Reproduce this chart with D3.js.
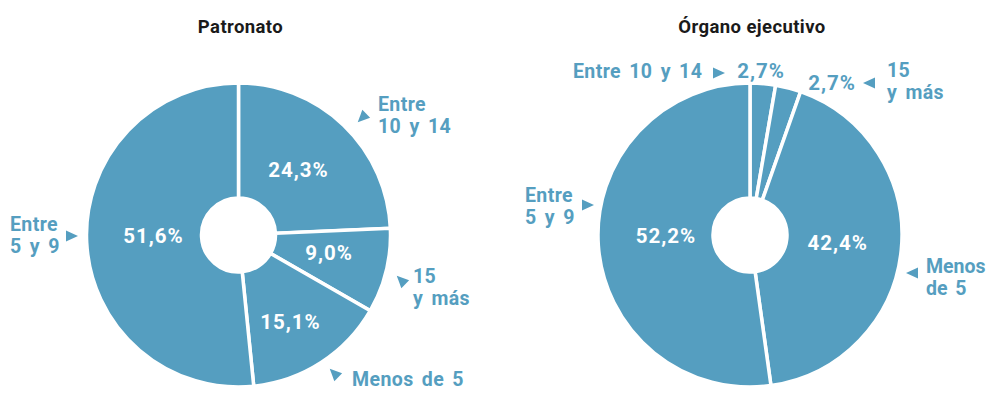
<!DOCTYPE html>
<html><head><meta charset="utf-8">
<script src="https://cdn.jsdelivr.net/npm/d3@7"></script>
<style>
html,body{margin:0;padding:0;background:#fff;}
svg{display:block;}
</style></head>
<body>
<script>
// ---- data ----
const categories = ["Entre 10 y 14", "15 y más", "Menos de 5", "Entre 5 y 9"];
const patronatoValues = [24.3, 9.0, 15.1, 51.6];
const organoValues = [2.7, 2.7, 42.4, 52.2];
const titles = ["Patronato", "Órgano ejecutivo"];

// ---- layout (positions only) ----
const W = 986, H = 407;
const BLUE = "#559ec0";
const charts = [
  {
    title: titles[0], values: patronatoValues, cx: 238.5, cy: 235,
    pct: [[298.5,169.5],[329,252.5],[290.5,321.5],[153.5,235.5]],
    labels: [
      {lines:["Entre","10 y 14"], x:378, y:111},
      {lines:["15","y más"], x:413, y:283},
      {lines:["Menos de 5"], x:352, y:386},
      {lines:["Entre","5 y 9"], x:10, y:231}
    ],
    arrows: [[362,118,135],[401,280,-135],[334,373,-135],[72,236,0]]
  },
  {
    title: titles[1], values: organoValues, cx: 750, cy: 235,
    pct: [[761,70.5],[832,83],[837.7,243],[666,235.5]],
    labels: [
      {lines:["Entre 10 y 14"], x:573, y:78},
      {lines:["15","y más"], x:887, y:77},
      {lines:["Menos","de 5"], x:926, y:273},
      {lines:["Entre","5 y 9"], x:525, y:202}
    ],
    arrows: [[719,73,0],[869,83,180],[912,273,180],[588,205,0]]
  }
];

const svg = d3.select("body").append("svg").attr("width", W).attr("height", H)
  .style("font-family", "Roboto, 'Liberation Sans', sans-serif");

const pie = d3.pie().sort(null).value(d => d);
const arc = d3.arc().innerRadius(37).outerRadius(152);
const fmt = v => d3.format(".1f")(v).replace(".", ",") + "%";

charts.forEach(c => {
  const g = svg.append("g");
  g.append("text").attr("x", c.cx + 2).attr("y", 33).attr("text-anchor", "middle")
    .attr("font-size", 18.5).attr("font-weight", 700).attr("fill", "#1a1a1a")
    .attr("letter-spacing", 0.4).text(c.title);

  const arcs = pie(c.values);
  g.append("g").attr("transform", `translate(${c.cx},${c.cy})`)
    .selectAll("path").data(arcs).join("path")
    .attr("d", arc).attr("fill", BLUE)
    .attr("stroke", "#fff").attr("stroke-width", 3.5).attr("stroke-linejoin", "miter");

  g.selectAll("text.pct").data(arcs).join("text").attr("class", "pct")
    .attr("x", (d, i) => c.pct[i][0]).attr("y", (d, i) => c.pct[i][1])
    .attr("dy", "0.36em").attr("text-anchor", "middle")
    .attr("font-size", 20.5).attr("font-weight", 700).attr("letter-spacing", 1)
    .attr("fill", (d, i) => (c.pct[i][1] < 100) ? BLUE : "#fff")
    .text(d => fmt(d.data));

  c.labels.forEach((l, i) => {
    const t = g.append("text").attr("x", l.x).attr("y", l.y)
      .attr("font-size", 19.5).attr("font-weight", 700).attr("fill", BLUE)
      .attr("letter-spacing", l.x > 900 ? 0 : 0.4).attr("word-spacing", 3);
    l.lines.forEach((s, j) => {
      t.append("tspan").attr("x", l.x).attr("dy", j === 0 ? 0 : 21.5).text(s);
    });
  });

  const tri = "M6,0 L-6,-5.5 L-6,5.5 Z";
  g.selectAll("path.arrow").data(c.arrows).join("path").attr("class", "arrow")
    .attr("d", tri).attr("fill", BLUE)
    .attr("transform", d => `translate(${d[0]},${d[1]}) rotate(${d[2]})`);
});
</script>
</body></html>
